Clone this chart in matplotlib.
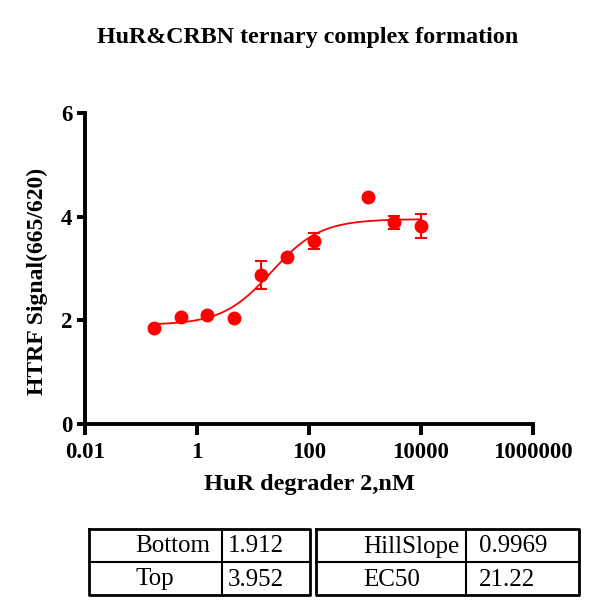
import numpy as np
import matplotlib
matplotlib.use("Agg")
import matplotlib.pyplot as plt

# ---- data ----
conc = [0.169, 0.508, 1.52, 4.57, 13.7, 41.2, 123, 1111, 3333, 10000]
signal = [1.85, 2.06, 2.10, 2.05, 2.88, 3.22, 3.53, 4.38, 3.89, 3.82]
sem = [0.0, 0.0, 0.0, 0.0, 0.27, 0.0, 0.15, 0.0, 0.12, 0.23]

bottom, top, hill, ec50 = 1.912, 3.952, 0.9969, 21.22

title = "HuR&CRBN ternary complex formation"
xlabel = "HuR degrader 2,nM"
ylabel = "HTRF Signal(665/620)"
xticks = [0.01, 1, 100, 10000, 1000000]
xticklabels = ["0.01", "1", "100", "10000", "1000000"]
yticks = [0, 2, 4, 6]

table_left = [["Bottom", "1.912"], ["Top", "3.952"]]
table_right = [["HillSlope", "0.9969"], ["EC50", "21.22"]]

plt.rcParams['font.family'] = ['Liberation Serif', 'DejaVu Serif']
plt.rcParams['font.weight'] = 'bold'

W, H = 599, 609
fig = plt.figure(figsize=(W / 100, H / 100), dpi=100)
ax = fig.add_axes([85 / W, 1 - 424 / H, (533 - 85) / W, (424 - 113) / H])

red = '#ff0000'
xs = np.logspace(np.log10(conc[0]), np.log10(conc[-1]), 300)
ys = bottom + (top - bottom) / (1 + (ec50 / xs) ** hill)
ax.plot(xs, ys, color=red, lw=1.3, zorder=2)
ax.errorbar(conc, signal, yerr=sem, fmt='o', color=red, ms=9, ecolor=red,
            elinewidth=1.5, capsize=4, capthick=1.5, zorder=3)

ax.set_xscale('log')
ax.set_xlim(0.01, 1000000)
ax.set_ylim(0, 6)
ax.set_xticks(xticks)
ax.set_xticklabels(xticklabels)
ax.minorticks_off()
ax.set_yticks(yticks)
ax.spines['top'].set_visible(False)
ax.spines['right'].set_visible(False)
for s in ['left', 'bottom']:
    ax.spines[s].set_linewidth(2.8)
ax.tick_params(axis='both', width=2.8, labelsize=16.5)
ax.tick_params(axis='x', length=8, pad=5)
ax.tick_params(axis='y', length=6, pad=3)
for lab in ax.get_xticklabels() + ax.get_yticklabels():
    lab.set_fontweight('bold')
ax.set_xlabel(xlabel, fontsize=17.5, fontweight='bold', labelpad=8)
ax.set_ylabel(ylabel, fontsize=17, fontweight='bold')
ax.yaxis.set_label_coords(-0.083, 0.46)
fig.text(308 / W, 1 - 38 / H, title, fontsize=17.3, fontweight='bold',
         ha='center', va='center')

# ---- tables ----
ov = fig.add_axes([0, 0, 1, 1], facecolor='none')
ov.set_xlim(0, W)
ov.set_ylim(H, 0)
ov.axis('off')


def draw_table(x0, x1, xm, y0, y1, rows, tx0, tx1):
    ym = (y0 + y1) / 2
    ov.plot([x0, x1, x1, x0, x0], [y0, y0, y1, y1, y0], color='black', lw=2)
    ov.plot([xm, xm], [y0, y1], color='black', lw=1.5)
    ov.plot([x0, x1], [ym, ym], color='black', lw=1.5)
    for i, (a, b) in enumerate(rows):
        yc = (y0 + ym) / 2 + 1 if i == 0 else (ym + y1) / 2 + 1
        ov.text(tx0, yc, a, fontsize=18, fontweight='normal', ha='left', va='center')
        ov.text(tx1, yc, b, fontsize=18, fontweight='normal', ha='left', va='center')


draw_table(89, 310, 222, 529, 595, table_left, 135, 228)
draw_table(316, 579, 466, 529, 595, table_right, 363, 479)

fig.savefig('out.png', dpi=100)
